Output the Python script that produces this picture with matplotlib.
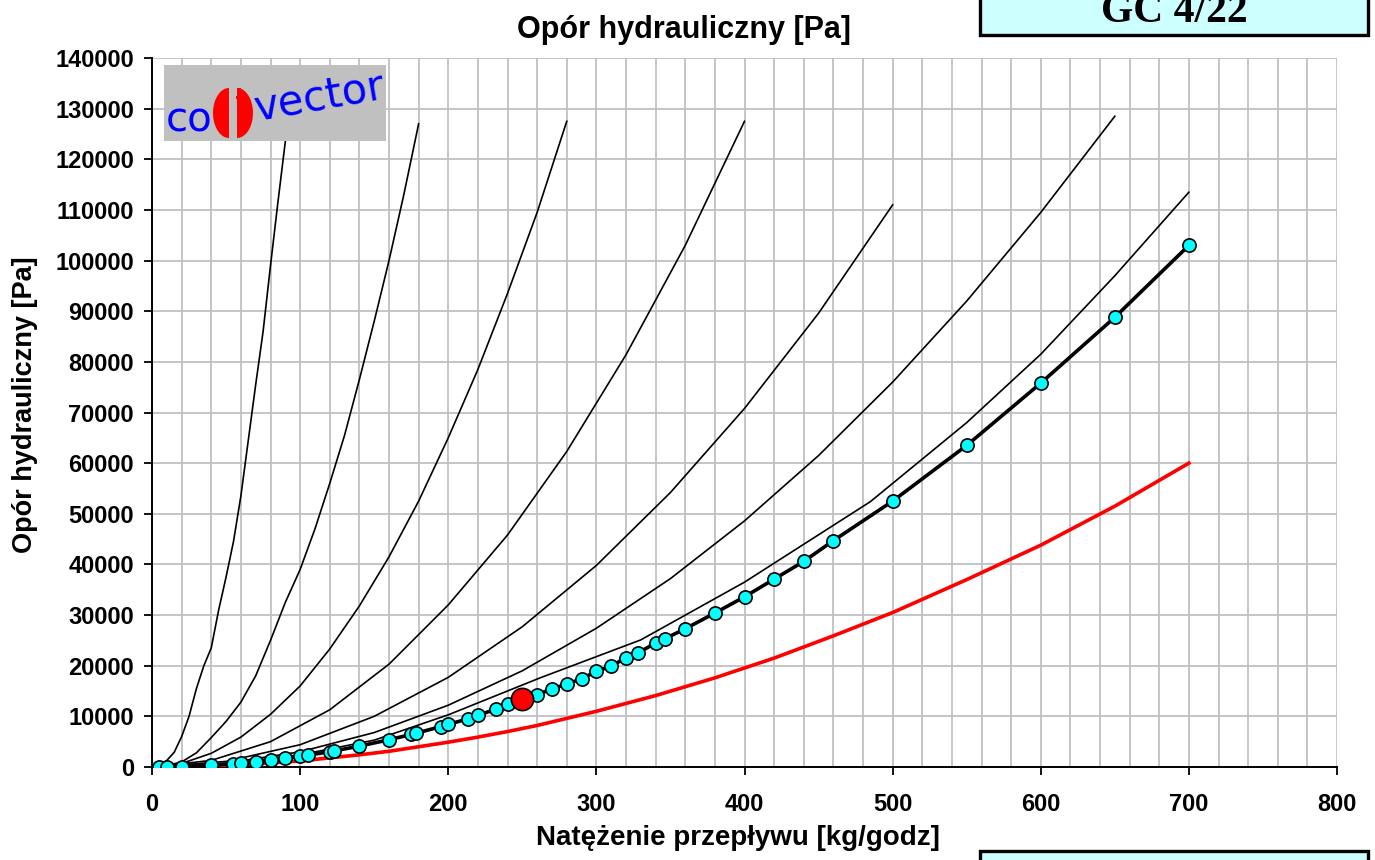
import numpy as np
import matplotlib
matplotlib.use('Agg')
import matplotlib.pyplot as plt
from matplotlib.patches import Rectangle, Polygon

# krzywe oporu
c1_x = [0, 5, 10, 15, 20, 25, 30, 35, 40, 45, 50, 55, 60, 65, 70, 75, 80, 85, 90]
c1_y = [0, 400, 1300, 2900, 6000, 10000, 15500, 20000, 23500, 31000, 37500, 44500,
        53500, 64500, 75500, 86000, 99000, 111500, 123500]

c2_x = [0, 10, 20, 30, 40, 50, 60, 70, 80, 90, 100, 110, 120, 130, 140, 150, 160, 170, 180]
c2_y = [0, 300, 1000, 2800, 5800, 9000, 12800, 18000, 25000, 32500, 39000, 47000,
        56000, 65500, 76500, 88000, 100000, 113000, 127000]

c3_x = [0, 20, 40, 60, 80, 100, 120, 140, 160, 180, 200, 220, 240, 260, 280]
c3_y = [0, 700, 2700, 5900, 10400, 16000, 23300, 31800, 41500, 52500, 65000, 78500,
        93500, 109500, 127500]

c4_x = [0, 40, 80, 120, 160, 200, 240, 280, 320, 360, 400]
c4_y = [0, 1300, 5000, 11300, 20300, 32000, 45800, 62300, 81400, 103000, 127500]

c5_x = [0, 50, 100, 150, 200, 250, 300, 350, 400, 450, 500]
c5_y = [0, 1100, 4400, 10000, 17700, 27700, 39800, 54200, 70800, 89600, 111000]

c6_x = [0, 50, 100, 150, 200, 250, 300, 350, 400, 450, 500, 550, 600, 650]
c6_y = [0, 760, 3000, 6800, 12200, 19000, 27400, 37200, 48600, 61500, 76000, 92000,
        109500, 128500]

c7_x = [0, 50, 100, 150, 200, 262, 330, 400, 485, 550, 600, 650, 700]
c7_y = [0, 600, 2400, 5300, 10300, 17600, 25100, 36500, 52400, 68000, 81500, 97000, 113500]

# krzywa robocza z punktami
m_x = [5, 10, 20, 40, 55, 60, 70, 80, 90, 100, 105, 120, 123, 140, 160, 175, 178, 195,
       200, 213, 220, 232, 240, 260, 270, 280, 290, 300, 310, 320, 328, 340, 346, 360,
       380, 400, 420, 440, 460, 500, 550, 600, 650, 700]
m_y = [0, 20, 80, 340, 640, 760, 1030, 1340, 1700, 2100, 2320, 3020, 3180, 4120, 5380,
       6430, 6650, 7980, 8400, 9500, 10200, 11400, 12400, 14300, 15400, 16400, 17400,
       18900, 19900, 21600, 22500, 24500, 25300, 27300, 30400, 33600, 37100, 40600,
       44700, 52500, 63500, 75800, 88800, 103000]

pt_x = [250]
pt_y = [13400]

# czerwona krzywa
r_x = [20, 40, 60, 80, 100, 120, 140, 160, 180, 200, 220, 240, 260, 280, 300, 340, 380,
       420, 460, 500, 550, 600, 650, 700]
r_y = [50, 200, 450, 800, 1200, 1800, 2400, 3100, 4000, 4900, 5900, 7000, 8200, 9600,
       11000, 14100, 17600, 21500, 25900, 30500, 37000, 43800, 51500, 60000]

W, H = 1375, 860
def fx(px):
    return px / W
def fy(py):
    return 1 - py / H

plt.rcParams['font.family'] = ['Liberation Sans', 'DejaVu Sans']
fig = plt.figure(figsize=(13.75, 8.6), dpi=100)
ax = fig.add_axes([fx(152), fy(767), fx(1337) - fx(152), fy(58) - fy(767)])

for cx, cy in [(c1_x, c1_y), (c2_x, c2_y), (c3_x, c3_y), (c4_x, c4_y),
               (c5_x, c5_y), (c6_x, c6_y), (c7_x, c7_y)]:
    ax.plot(cx, cy, color='black', lw=1.2, zorder=3)

ax.plot(r_x, r_y, color='#FF0000', lw=2.6, zorder=3)

line_x = sorted(m_x + pt_x)
line_y = [dict(zip(m_x + pt_x, m_y + pt_y))[v] for v in line_x]
ax.plot(line_x, line_y, color='black', lw=2.6, zorder=4)
ax.plot(m_x, m_y, ls='none', marker='o', ms=9.5, mfc='#00FFFF', mec='black', mew=1.2, zorder=5)
ax.plot(pt_x, pt_y, ls='none', marker='o', ms=16, mfc='#FF0000', mec='black', mew=1.2, zorder=6)

ax.set_xlim(0, 800)
ax.set_ylim(0, 140000)
ax.set_xticks(np.arange(0, 801, 100))
ax.set_yticks(np.arange(0, 140001, 10000))
ax.set_xticks(np.arange(0, 801, 20), minor=True)
ax.grid(True, which='both', axis='x', color='#C0C0C0', lw=1.3)
ax.grid(True, which='major', axis='y', color='#C0C0C0', lw=1.3)
ax.set_axisbelow(True)
ax.tick_params(which='minor', length=0)
ax.tick_params(which='major', length=6, width=1.3, direction='out', labelsize=17)
ax.tick_params(axis='x', pad=13)
ax.tick_params(axis='y', pad=7)
for lab in ax.get_xticklabels() + ax.get_yticklabels():
    lab.set_fontweight('bold')
for s in ['top', 'right']:
    ax.spines[s].set_visible(False)
for s in ['left', 'bottom']:
    ax.spines[s].set_linewidth(1.4)

fig.text(fx(738), fy(838), 'Natężenie przepływu [kg/godz]', fontsize=20, fontweight='bold',
         ha='center', va='center')
fig.text(fx(25), fy(405), 'Opór hydrauliczny [Pa]', fontsize=19.5, fontweight='bold',
         ha='center', va='center', rotation=90)
fig.text(fx(684), fy(30), 'Opór hydrauliczny [Pa]', fontsize=22, fontweight='bold',
         ha='center', va='center')

# ramki z oznaczeniem
fig.patches.append(Rectangle((fx(980), fy(35)), fx(1368) - fx(980), fy(-10) - fy(35),
                             transform=fig.transFigure, facecolor='#CCFFFF',
                             edgecolor='black', lw=2.4, zorder=1))
fig.text(fx(1174), fy(22), 'GC 4/22', fontsize=30, fontweight='bold',
         family='Liberation Serif', ha='center', va='baseline', zorder=2)
fig.patches.append(Rectangle((fx(980), fy(875)), fx(1368) - fx(980), fy(851) - fy(875),
                             transform=fig.transFigure, facecolor='#CCFFFF',
                             edgecolor='black', lw=2.4, zorder=1))

# logo
fig.patches.append(Rectangle((fx(164), fy(141)), fx(386) - fx(164), fy(65) - fy(141),
                             transform=fig.transFigure, facecolor='#C0C0C0',
                             edgecolor='none', zorder=1))
fig.text(fx(166), fy(131), 'co', fontsize=29, color='#0000FF', family='DejaVu Sans',
         ha='left', va='baseline', zorder=2)
t = np.linspace(np.pi / 2, 3 * np.pi / 2, 30)
left_lobe = [(fx(229 + 16 * np.cos(a)), fy(113 - 25 * np.sin(a))) for a in t]
right_lobe = [(fx(237 - 16 * np.cos(a)), fy(113 - 25 * np.sin(a))) for a in t]
for lobe in (left_lobe, right_lobe):
    fig.patches.append(Polygon(lobe, closed=True, transform=fig.transFigure,
                               facecolor='#FF0000', edgecolor='none', zorder=2))
for bx, by in [(238, 88), (241, 92), (236, 96), (243, 98), (239, 102)]:
    fig.patches.append(Rectangle((fx(bx), fy(by + 3)), 3 / W, 3 / H,
                                 transform=fig.transFigure, facecolor='#FF0000',
                                 edgecolor='none', zorder=2))
fig.text(fx(257), fy(121), 'vector', fontsize=30, color='#0000FF', family='DejaVu Sans',
         rotation=10, rotation_mode='anchor', ha='left', va='baseline', zorder=2)

fig.savefig('out.png', dpi=100)
